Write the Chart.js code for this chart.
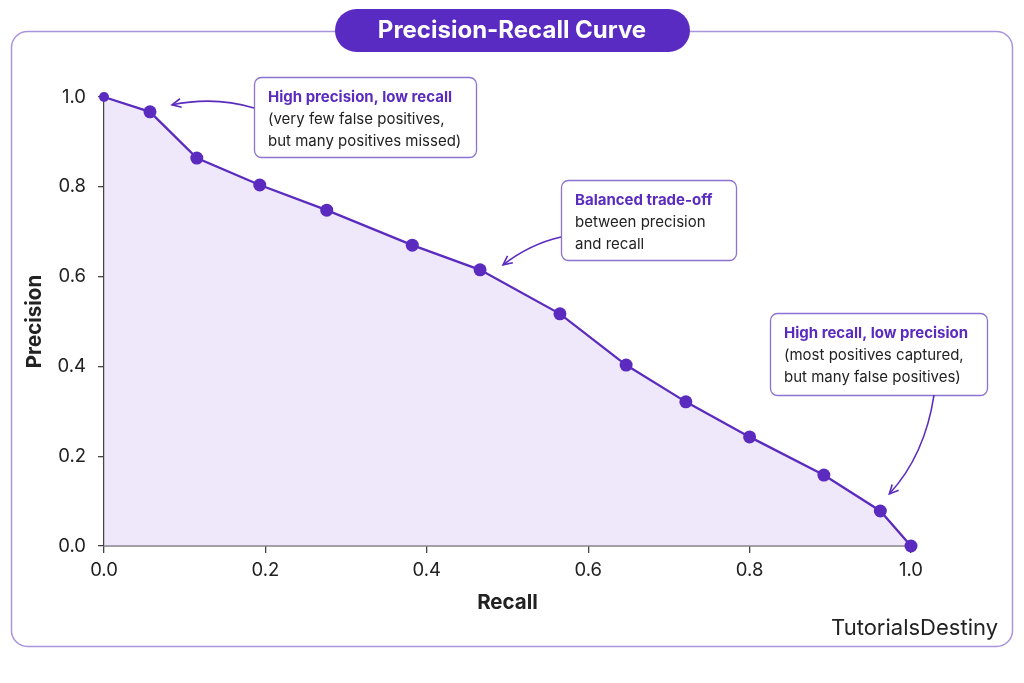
<!DOCTYPE html>
<html>
<head>
<meta charset="utf-8">
<script src="https://cdn.jsdelivr.net/npm/chart.js@4/dist/chart.umd.min.js"></script>
<style>
  html, body { margin: 0; padding: 0; background: #ffffff; }
  #wrap { width: 1024px; height: 683px; position: relative; }
  canvas { display: block; }
</style>
</head>
<body>
<div id="wrap"><canvas id="c" width="1024" height="683"></canvas></div>
<script>
const recall    = [0.0, 0.057, 0.115, 0.193, 0.276, 0.382, 0.466, 0.565, 0.647, 0.721, 0.800, 0.892, 0.962, 1.0];
const precision = [1.0, 0.967, 0.864, 0.804, 0.748, 0.670, 0.615, 0.517, 0.403, 0.321, 0.243, 0.158, 0.078, 0.0];
const tickValues = [0.0, 0.2, 0.4, 0.6, 0.8, 1.0];
const chartTitle = 'Precision-Recall Curve';
const xTitle = 'Recall';
const yTitle = 'Precision';
const watermark = 'TutorialsDestiny';
const notes = [
  { idx: 1, bold: 'High precision, low recall', lines: ['(very few false positives,', 'but many positives missed)'] },
  { idx: 6, bold: 'Balanced trade-off', lines: ['between precision', 'and recall'] },
  { idx: 12, bold: 'High recall, low precision', lines: ['(most positives captured,', 'but many false positives)'] }
];

const PURPLE = '#5b2bbf';
const FONT = 'Inter, "Noto Sans", sans-serif';

const points = recall.map((r, i) => ({ x: r, y: precision[i] }));

function roundRect(ctx, x, y, w, h, r) {
  ctx.beginPath();
  ctx.moveTo(x + r, y);
  ctx.lineTo(x + w - r, y);
  ctx.arcTo(x + w, y, x + w, y + r, r);
  ctx.lineTo(x + w, y + h - r);
  ctx.arcTo(x + w, y + h, x + w - r, y + h, r);
  ctx.lineTo(x + r, y + h);
  ctx.arcTo(x, y + h, x, y + h - r, r);
  ctx.lineTo(x, y + r);
  ctx.arcTo(x, y, x + r, y, r);
  ctx.closePath();
}

function arrow(ctx, x0, y0, cx, cy, x1, y1) {
  ctx.save();
  ctx.strokeStyle = PURPLE;
  ctx.lineWidth = 1.6;
  ctx.beginPath();
  ctx.moveTo(x0, y0);
  ctx.quadraticCurveTo(cx, cy, x1, y1);
  ctx.stroke();
  const ang = Math.atan2(y1 - cy, x1 - cx);
  const L = 10, A = 0.45;
  ctx.beginPath();
  ctx.moveTo(x1 - L * Math.cos(ang - A), y1 - L * Math.sin(ang - A));
  ctx.lineTo(x1, y1);
  ctx.lineTo(x1 - L * Math.cos(ang + A), y1 - L * Math.sin(ang + A));
  ctx.stroke();
  ctx.restore();
}

const decor = {
  id: 'decor',
  beforeDraw(chart) {
    const ctx = chart.ctx;
    ctx.save();
    ctx.fillStyle = '#ffffff';
    ctx.fillRect(0, 0, chart.width, chart.height);
    ctx.strokeStyle = '#a995dc';
    ctx.lineWidth = 1.5;
    roundRect(ctx, 11.5, 31.5, 1001, 615, 16);
    ctx.stroke();
    ctx.restore();
  },
  afterDraw(chart) {
    const ctx = chart.ctx;
    const xs = chart.scales.x, ys = chart.scales.y;
    const px = i => xs.getPixelForValue(recall[i]);
    const py = i => ys.getPixelForValue(precision[i]);
    ctx.save();
    // title pill
    ctx.fillStyle = '#5a2bc2';
    roundRect(ctx, 335, 9, 355, 43, 21.5);
    ctx.fill();
    ctx.fillStyle = '#ffffff';
    ctx.font = 'bold 24px ' + FONT;
    ctx.textAlign = 'center';
    ctx.textBaseline = 'middle';
    ctx.fillText(chartTitle, 512, 31);

    // annotation boxes
    const boxes = [
      { x: 254, y: 77, w: 222, h: 80 },
      { x: 561, y: 180, w: 175, h: 80 },
      { x: 770, y: 313, w: 217, h: 82 }
    ];
    notes.forEach((n, k) => {
      const b = boxes[k];
      ctx.fillStyle = '#ffffff';
      ctx.strokeStyle = '#8c72d2';
      ctx.lineWidth = 1.3;
      roundRect(ctx, b.x + 0.5, b.y + 0.5, b.w, b.h, 7);
      ctx.fill();
      ctx.stroke();
      ctx.textAlign = 'left';
      ctx.textBaseline = 'middle';
      ctx.fillStyle = '#5a2bbf';
      ctx.font = 'bold 15px ' + FONT;
      ctx.fillText(n.bold, b.x + 14, b.y + 20);
      ctx.fillStyle = '#222222';
      ctx.font = '15px ' + FONT;
      n.lines.forEach((t, j) => ctx.fillText(t, b.x + 14, b.y + 42 + j * 22));
    });

    // arrows pointing at data points
    arrow(ctx, 254, 108, 215, 96, px(1) + 22, py(1) - 7);
    arrow(ctx, 561, 237, 530, 244, px(6) + 23, py(6) - 5);
    arrow(ctx, 934, 395, 925, 455, px(12) + 9, py(12) - 17);

    // watermark
    ctx.fillStyle = '#222222';
    ctx.font = '22px ' + FONT;
    ctx.textAlign = 'right';
    ctx.textBaseline = 'middle';
    ctx.fillText(watermark, 998, 628);
    ctx.restore();
  }
};

new Chart(document.getElementById('c'), {
  type: 'scatter',
  data: {
    datasets: [{
      data: points,
      showLine: true,
      borderColor: PURPLE,
      borderWidth: 2.3,
      backgroundColor: 'rgba(226, 216, 246, 0.6)',
      fill: 'origin',
      pointBackgroundColor: PURPLE,
      pointBorderColor: PURPLE,
      pointRadius: c => c.dataIndex === 0 ? 5 : 6.5,
      pointBorderWidth: 0,
      tension: 0,
      clip: false
    }]
  },
  options: {
    responsive: false,
    animation: false,
    devicePixelRatio: 1,
    layout: { padding: { left: 0, right: 113, top: 97, bottom: 64 } },
    plugins: { legend: { display: false }, tooltip: { enabled: false } },
    scales: {
      x: {
        type: 'linear', min: 0, max: 1,
        afterBuildTicks: s => { s.ticks = tickValues.map(v => ({ value: v })); },
        afterFit: s => { s.height = 73; },
        grid: { drawOnChartArea: false, drawTicks: true, tickLength: 7, color: '#444', lineWidth: 1.3 },
        border: { display: true, color: '#444', width: 1.5 },
        ticks: { color: '#222', font: { family: FONT, size: 18.5 }, padding: 6, callback: v => v.toFixed(1), maxRotation: 0 },
        title: { display: true, text: xTitle, color: '#222', font: { family: FONT, size: 20.5, weight: 'bold' }, padding: { bottom: 4 } }
      },
      y: {
        type: 'linear', min: 0, max: 1,
        afterBuildTicks: s => { s.ticks = tickValues.map(v => ({ value: v })); },
        afterFit: s => { s.width = 104; },
        grid: { drawOnChartArea: false, drawTicks: true, tickLength: 6, color: '#444', lineWidth: 1.3 },
        border: { display: true, color: '#444', width: 1.5 },
        ticks: { color: '#222', font: { family: FONT, size: 18.5 }, padding: 12, callback: v => v.toFixed(1) },
        title: { display: true, text: yTitle, color: '#222', font: { family: FONT, size: 20.5, weight: 'bold' }, padding: { top: 23, bottom: 0 } }
      }
    }
  },
  plugins: [decor]
});
</script>
</body>
</html>
